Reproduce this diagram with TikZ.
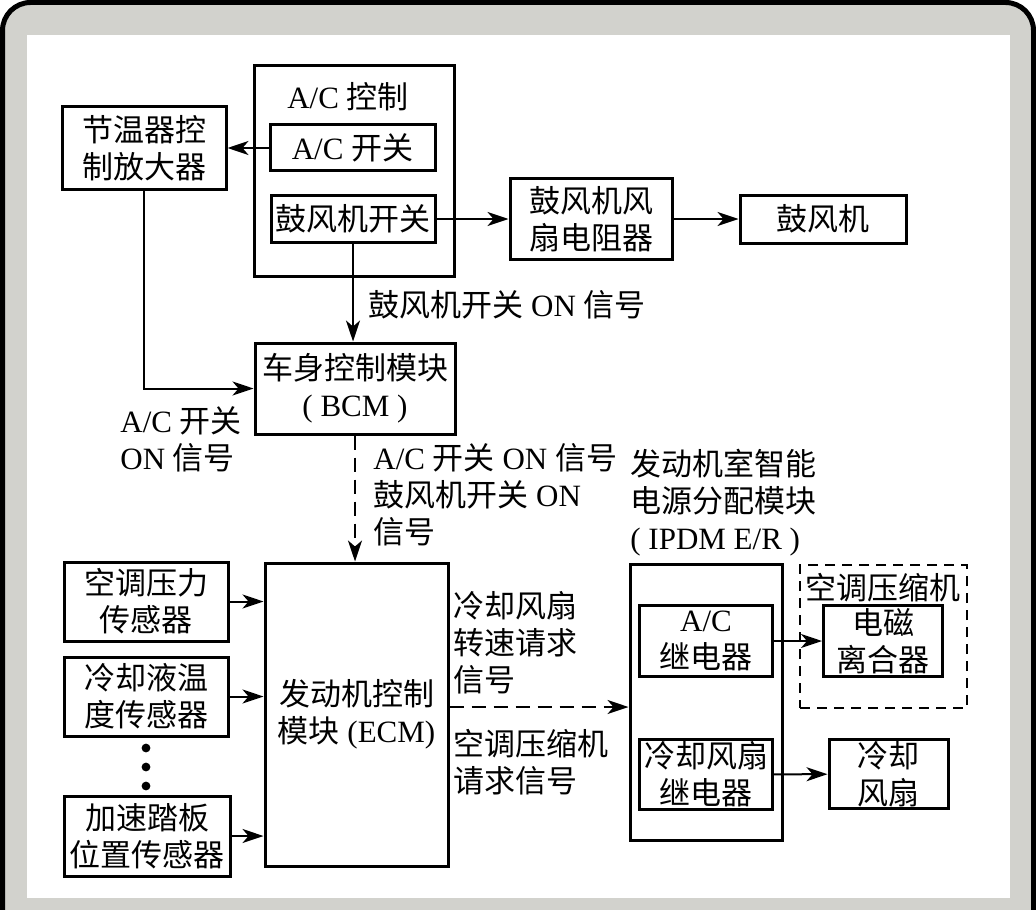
\documentclass[tikz,border=0pt]{standalone}
\usepackage{fontspec}
\setmainfont{Liberation Serif}
\newfontfamily\cjk{Noto Sans CJK SC}
\usetikzlibrary{arrows.meta}
\newcommand{\zh}[1]{{\cjk #1}}
\newcommand{\txtsize}{\fontsize{15.5}{18.5}\selectfont}
\definecolor{frameGrey}{RGB}{210,210,205}
\tikzstyle{normalBox} = [shape=rectangle, draw=black, line width=1.5pt,
	align=center, inner sep=0pt, font=\txtsize]
\tikzstyle{dashBox} = [shape=rectangle, draw=black, line width=1pt,
	dash pattern=on 5pt off 3.5pt]
\tikzstyle{normalArrow} = [line width=1pt, -{Stealth[length=10.5pt, width=7pt, inset=3pt]}]
\tikzstyle{dashArrow} = [normalArrow, dash pattern=on 7pt off 4pt]
\tikzstyle{sigText} = [align=left, anchor=west, inner sep=0pt, font=\txtsize]
\tikzstyle{titleText} = [inner sep=0pt, font=\txtsize]

\begin{document}
\begin{tikzpicture}[x=0.5pt, y=-0.5pt]
  \useasboundingbox (0,0) rectangle (1036,909);
  \draw [fill=frameGrey, line width=2.5pt, rounded corners=14pt] (2.5,2.5) rectangle (1033.5,960);
  \fill [white] (27,35) rectangle (1010,898);

  % A/C control part
  \node (ACCTRL) [normalBox, minimum width=100pt, minimum height=105pt] at (354,171) {};
  \node (ACTITLE) [titleText] at (348,97) {A/C \zh{控制}};
  \node (ACSW) [normalBox, minimum width=82.5pt, minimum height=23pt] at (352.5,148) {A/C \zh{开关}};
  \node (BLSW) [normalBox, minimum width=82pt, minimum height=23.5pt] at (353,219) {\zh{鼓风机开关}};
  \node (THERMO) [normalBox, minimum width=82pt, minimum height=41pt] at (144,148) {\zh{节温器控}\\\zh{制放大器}};
  \node (BLRES) [normalBox, minimum width=81pt, minimum height=40pt] at (591,219) {\zh{鼓风机风}\\\zh{扇电阻器}};
  \node (BLOWER) [normalBox, minimum width=83pt, minimum height=24pt] at (823,219) {\zh{鼓风机}};

  % BCM
  \node (BCM) [normalBox, minimum width=100pt, minimum height=45.5pt] at (355,388.5) {\zh{车身控制模块}\\( BCM )};
  \node (SIGBL) [sigText] at (368,305) {\zh{鼓风机开关} ON \zh{信号}};
  \node (SIGAC) [sigText] at (120,439) {A/C \zh{开关}\\ON \zh{信号}};
  \node (SIGBCM) [sigText] at (373,495) {A/C \zh{开关} ON \zh{信号}\\\zh{鼓风机开关} ON\\\zh{信号}};

  % ECM and sensors
  \node (ECM) [normalBox, minimum width=91.5pt, minimum height=151.5pt] at (356.5,714.5) {\zh{发动机控制}\\\zh{模块} (ECM)};
  \node (PRESS) [normalBox, minimum width=82pt, minimum height=39.5pt] at (146,601.5) {\zh{空调压力}\\\zh{传感器}};
  \node (COOLT) [normalBox, minimum width=82pt, minimum height=39.5pt] at (146,696.5) {\zh{冷却液温}\\\zh{度传感器}};
  \node (PEDAL) [normalBox, minimum width=83pt, minimum height=40pt] at (147,836) {\zh{加速踏板}\\\zh{位置传感器}};
  \foreach \y in {748,767,786}
    \fill (146,\y) circle (2.2pt);
  \node (SIGFAN) [sigText] at (453,643) {\zh{冷却风扇}\\\zh{转速请求}\\\zh{信号}};
  \node (SIGCOMP) [sigText] at (453,762) {\zh{空调压缩机}\\\zh{请求信号}};

  % IPDM E/R
  \node (SIGIPDM) [sigText] at (630,503) {\zh{发动机室智能}\\\zh{电源分配模块}\\( IPDM E/R )};
  \node (IPDM) [normalBox, minimum width=76pt, minimum height=138pt] at (706,702) {};
  \node (ACRLY) [normalBox, minimum width=66.5pt, minimum height=35.5pt] at (706,641) {A/C\\\zh{继电器}};
  \node (FANRLY) [normalBox, minimum width=66.5pt, minimum height=35pt] at (706,774.5) {\zh{冷却风扇}\\\zh{继电器}};
  \node (COMP) [dashBox, minimum width=83.5pt, minimum height=71.5pt] at (883.5,636.5) {};
  \node (COMPTITLE) [titleText] at (883,588) {\zh{空调压缩机}};
  \node (CLUTCH) [normalBox, minimum width=59.5pt, minimum height=35.5pt] at (883,641) {\zh{电磁}\\\zh{离合器}};
  \node (FAN) [normalBox, minimum width=59.5pt, minimum height=34.5pt] at (888.5,774) {\zh{冷却}\\\zh{风扇}};

  \draw [normalArrow] (ACSW) -- (THERMO);
  \draw [normalArrow] (BLSW) -- (BLRES);
  \draw [normalArrow] (BLRES) -- (BLOWER);
  \draw [normalArrow] (BLSW.south) -- (BLSW.south |- BCM.north);
  \draw [normalArrow] (THERMO.south) |- (BCM.west);
  \draw [dashArrow] (BCM.south) -- (BCM.south |- ECM.north);
  \draw [normalArrow] (PRESS.east) -- (PRESS.east -| ECM.west);
  \draw [normalArrow] (COOLT.east) -- (COOLT.east -| ECM.west);
  \draw [normalArrow] (PEDAL.east) -- (PEDAL.east -| ECM.west);
  \draw [dashArrow] ([yshift=3.75pt]ECM.east) -- ([yshift=-2.5pt]IPDM.west);
  \draw [normalArrow] (ACRLY) -- (CLUTCH);
  \draw [normalArrow] (FANRLY) -- (FAN);

\end{tikzpicture}
\end{document}
